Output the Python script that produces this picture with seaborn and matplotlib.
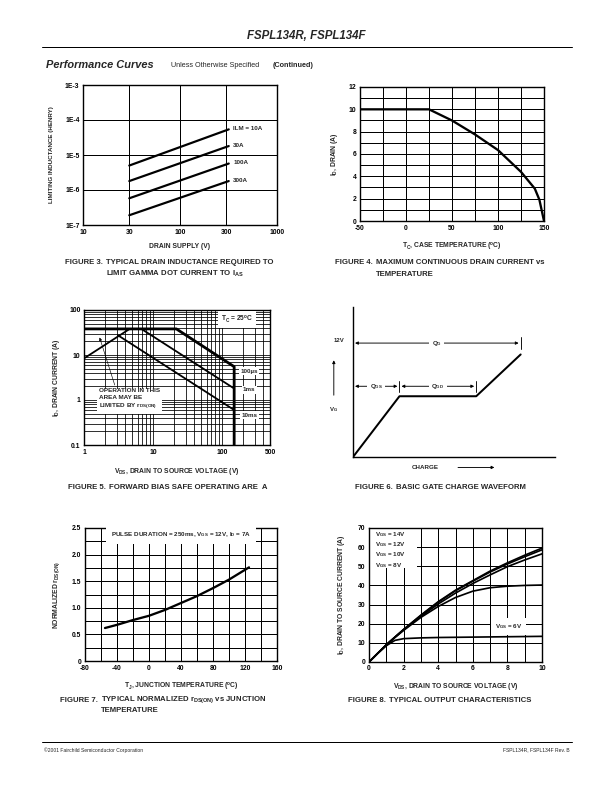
import numpy as np
import pandas as pd
import matplotlib
matplotlib.use('Agg')
import matplotlib.pyplot as plt
import seaborn as sns
from matplotlib.ticker import FixedLocator, NullFormatter, LogLocator, MultipleLocator

# ---- data ----
# fig 3: limiting inductance vs drain supply
drain_supply = [30, 318]
ilm_labels = ['ILM = 10A', '30A', '100A', '300A']
ind_at_30 = [5.0e-6, 1.8e-6, 5.8e-7, 1.9e-7]
ind_at_318 = [5.4e-5, 1.8e-5, 5.7e-6, 1.8e-6]

# fig 4: max continuous drain current vs case temperature
tc = [-50, 25, 50, 75, 100, 125, 140, 145, 150]
id_max = [10, 10, 9.0, 7.75, 6.35, 4.4, 2.9, 1.9, 0]

# fig 5: safe operating area
rds_v = [1, 4.6]
rds_i = [8.4, 38]
us100_v = [1, 21.9, 151, 151]
us100_i = [38, 38, 5.5, 0.1]
ms1_v = [6.8, 151]
ms1_i = [38, 1.8]
ms10_v = [3.1, 151]
ms10_i = [27.5, 0.6]

# fig 6: gate charge waveform (arbitrary units)
charge = [0, 2.3, 6.1, 8.3]
vg = [0, 6.4, 6.4, 10.8]

# fig 7: normalized rds(on) vs junction temperature
tj = [-55, -40, -20, 0, 20, 40, 60, 80, 100, 125]
rds_norm = [0.62, 0.68, 0.77, 0.85, 0.96, 1.09, 1.22, 1.37, 1.53, 1.76]

# fig 8: output characteristics
vds = [0, 0.5, 1, 1.5, 2, 3, 4, 5, 6, 7, 8, 9, 10]
id_14 = [0, 4.5, 9, 13, 17, 24.5, 31.5, 37.5, 42.5, 47.5, 51.8, 55.8, 59.5]
id_12 = [0, 4.5, 9, 13, 17, 24.3, 31.2, 37.2, 42.2, 47, 51.2, 55, 58.6]
id_10 = [0, 4.5, 9, 13, 16.8, 23.8, 30.3, 36, 41, 45.5, 49.8, 53.3, 56.5]
id_8 = [0, 4.5, 8.8, 12.8, 16.5, 23.3, 29, 33.7, 37, 38.8, 39.6, 40, 40.2]
id_6 = [0, 4.5, 8.5, 11.3, 12.2, 12.6, 12.8, 12.9, 13.0, 13.1, 13.2, 13.3, 13.4]
vgs_labels = ['V$_\\mathrm{GS}$ = 14V', 'V$_\\mathrm{GS}$ = 12V',
              'V$_\\mathrm{GS}$ = 10V', 'V$_\\mathrm{GS}$ = 8V']

sns.set_style('white')
plt.rcParams['font.family'] = ['Liberation Sans', 'DejaVu Sans']
plt.rcParams['font.weight'] = 'bold'
plt.rcParams['mathtext.fontset'] = 'custom'
plt.rcParams['mathtext.rm'] = 'Liberation Sans:bold'
plt.rcParams['mathtext.it'] = 'Liberation Sans:bold'
plt.rcParams['mathtext.bf'] = 'Liberation Sans:bold'

W, H = 612, 792
fig = plt.figure(figsize=(W / 72, H / 72), dpi=72)
TICK = 6.8
LAB = 6.8
CAP = 7.8
SMALL = 6.2


def place(l, t, r, b):
    return fig.add_axes([l / W, 1 - b / H, (r - l) / W, (b - t) / H])


def ftext(x, y, s, **kw):
    fig.text(x / W, 1 - y / H, s, **kw)


def style(ax):
    for sp in ax.spines.values():
        sp.set_color('black')
        sp.set_linewidth(1.4)
    ax.tick_params(which='both', length=0, labelsize=TICK, pad=3.5, colors='black')
    for lab in ax.get_xticklabels() + ax.get_yticklabels():
        lab.set_fontweight('bold')
    ax.set_axisbelow(True)


def caption(x, y, num, lines):
    ftext(x, y, 'FIGURE %d.' % num, fontsize=CAP, fontweight='bold', va='center')
    for k, ln in enumerate(lines):
        ftext(x + 41, y + k * 11, ln, fontsize=CAP, fontweight='bold', va='center')


white_box = dict(facecolor='white', edgecolor='none', pad=1.5)

# ---------- figure 3 ----------
ax = place(83, 85, 277, 225)
ax.set_xscale('log')
ax.set_yscale('log')
for lab, y0, y1 in zip(ilm_labels, ind_at_30, ind_at_318):
    sns.lineplot(x=drain_supply, y=[y0, y1], ax=ax, color='black', lw=2.2, estimator=None)
    ax.text(355, y1 * 1.05, lab, fontsize=SMALL, fontweight='bold', va='center', ha='left')
ax.set_xlim(10, 1000)
ax.set_ylim(1e-7, 1e-3)
ax.xaxis.set_major_locator(FixedLocator([10, 30, 100, 300, 1000]))
ax.xaxis.set_minor_locator(FixedLocator([]))
ax.set_xticklabels(['10', '30', '100', '300', '1000'])
ax.yaxis.set_major_locator(FixedLocator([1e-7, 1e-6, 1e-5, 1e-4, 1e-3]))
ax.yaxis.set_minor_locator(FixedLocator([]))
ax.set_yticklabels(['1E-7', '1E-6', '1E-5', '1E-4', '1E-3'])
ax.grid(True, which='major', color='black', lw=1.0)
ax.set_xlabel('DRAIN SUPPLY (V)', fontsize=LAB, fontweight='bold')
ax.set_ylabel('LIMITING INDUCTANCE (HENRY)', fontsize=6.2, fontweight='bold')
ax.xaxis.set_label_coords(0.5, -0.13)
ax.yaxis.set_label_coords(-0.15, 0.5)
style(ax)
caption(65, 263, 3, ['TYPICAL DRAIN INDUCTANCE REQUIRED TO',
                     'LIMIT GAMMA DOT CURRENT TO I$_\\mathrm{AS}$'])

# ---------- figure 4 ----------
ax = place(360, 87, 544, 221)
sns.lineplot(x=tc, y=id_max, ax=ax, color='black', lw=2.3, estimator=None)
ax.set_xlim(-50, 150)
ax.set_ylim(0, 12)
ax.xaxis.set_major_locator(MultipleLocator(25))
ax.yaxis.set_major_locator(MultipleLocator(1))
ax.set_xticklabels([('%d' % v if v % 50 == 0 else '') for v in ax.get_xticks()])
ax.set_yticklabels([('%d' % v if v % 2 == 0 else '') for v in ax.get_yticks()])
ax.grid(True, color='black', lw=1.0)
ax.set_xlabel('T$_\\mathrm{C}$, CASE TEMPERATURE ($^\\mathrm{o}$C)', fontsize=LAB, fontweight='bold')
ax.set_ylabel('I$_\\mathrm{D}$, DRAIN (A)', fontsize=LAB, fontweight='bold')
ax.xaxis.set_label_coords(0.5, -0.15)
ax.yaxis.set_label_coords(-0.11, 0.5)
style(ax)
caption(335, 263, 4, ['MAXIMUM CONTINUOUS DRAIN CURRENT vs', 'TEMPERATURE'])

# ---------- figure 5 ----------
ax = place(84, 310, 270, 445)
ax.set_xscale('log')
ax.set_yscale('log')
sns.lineplot(x=rds_v, y=rds_i, ax=ax, color='black', lw=1.8, estimator=None)
sns.lineplot(x=us100_v, y=us100_i, ax=ax, color='black', lw=2.8, sort=False, estimator=None)
sns.lineplot(x=ms1_v, y=ms1_i, ax=ax, color='black', lw=1.8, estimator=None)
sns.lineplot(x=ms10_v, y=ms10_i, ax=ax, color='black', lw=1.8, estimator=None)
ax.set_xlim(1, 500)
ax.set_ylim(0.1, 100)
ax.xaxis.set_major_locator(FixedLocator([1, 10, 100, 500]))
ax.set_xticklabels(['1', '10', '100', '500'])
ax.xaxis.set_minor_locator(LogLocator(base=10, subs=np.arange(2, 10), numticks=20))
ax.xaxis.set_minor_formatter(NullFormatter())
ax.yaxis.set_major_locator(FixedLocator([0.1, 1, 10, 100]))
ax.set_yticklabels(['0.1', '1', '10', '100'])
ax.yaxis.set_minor_locator(LogLocator(base=10, subs=np.arange(2, 10), numticks=20))
ax.yaxis.set_minor_formatter(NullFormatter())
ax.grid(True, which='both', color='black', lw=0.8)
ax.text(165, 62, 'T$_\\mathrm{C}$ = 25$^\\mathrm{o}$C', fontsize=6.6, fontweight='bold',
        ha='center', va='center', bbox=dict(facecolor='white', edgecolor='none', pad=3))
for lab, yv in zip(['100µs', '1ms', '10ms'], [4.4, 1.67, 0.46]):
    ax.text(250, yv, lab, fontsize=SMALL, fontweight='bold', ha='center', va='center', bbox=white_box)
ax.text(1.65, 1.0, 'OPERATION IN THIS\nAREA MAY BE\nLIMITED BY r$_\\mathrm{DS(ON)}$', fontsize=6.4,
        fontweight='bold', ha='left', va='center', linespacing=1.3,
        bbox=dict(facecolor='white', edgecolor='none', pad=2))
ax.annotate('', xy=(1.65, 27), xytext=(2.85, 1.95),
            arrowprops=dict(arrowstyle='-|>', color='black', lw=0.6, mutation_scale=6))
ax.set_xlabel('V$_\\mathrm{DS}$, DRAIN TO SOURCE VOLTAGE (V)', fontsize=LAB, fontweight='bold')
ax.set_ylabel('I$_\\mathrm{D}$, DRAIN CURRENT (A)', fontsize=LAB, fontweight='bold')
ax.xaxis.set_label_coords(0.5, -0.155)
ax.yaxis.set_label_coords(-0.12, 0.5)
style(ax)
caption(68, 487, 5, ['FORWARD BIAS SAFE OPERATING ARE  A'])

# ---------- figure 6 ----------
ax = place(353, 307, 555, 457)
sns.lineplot(x=charge, y=vg, ax=ax, color='black', lw=2.0, estimator=None, sort=False)
ax.set_xlim(0, 10)
ax.set_ylim(0, 15.8)
ax.set_xticks([])
ax.set_yticks([])
ax.spines['top'].set_visible(False)
ax.spines['right'].set_visible(False)
for sp in ['left', 'bottom']:
    ax.spines[sp].set_linewidth(1.4)
    ax.spines[sp].set_color('black')
arr = dict(arrowstyle='-|>', color='black', lw=0.9, mutation_scale=6)
y_qg, y_q = 12, 7.45
for (x0, x1, yy, lab) in [(0, charge[3], y_qg, 'Q$_\\mathrm{G}$'),
                          (0, charge[1], y_q, 'Q$_\\mathrm{GS}$'),
                          (charge[1], charge[2], y_q, 'Q$_\\mathrm{GD}$')]:
    xm = (x0 + x1) / 2
    ax.annotate('', xy=(x0, yy), xytext=(xm, yy), arrowprops=arr)
    ax.annotate('', xy=(x1, yy), xytext=(xm, yy), arrowprops=arr)
    ax.text(xm, yy, lab, fontsize=SMALL, fontweight='bold', ha='center', va='center',
            bbox=dict(facecolor='white', edgecolor='none', pad=2.5))
    ax.plot([x1, x1], [yy - 0.6, yy + 0.6], color='black', lw=0.9)
ax.text(-0.45, 12.3, '12V', fontsize=6, fontweight='bold', ha='right', va='center')
ax.annotate('', xy=(-0.95, 10.4), xytext=(-0.95, 6.3),
            arrowprops=dict(arrowstyle='-|>', color='black', lw=0.9, mutation_scale=6),
            annotation_clip=False)
ax.text(-0.95, 5.0, 'V$_\\mathrm{G}$', fontsize=6, fontweight='bold', ha='center', va='center')
ax.text(3.6, -1.1, 'CHARGE', fontsize=SMALL, fontweight='bold', ha='center', va='center')
ax.annotate('', xy=(7.1, -1.1), xytext=(5.1, -1.1),
            arrowprops=dict(arrowstyle='-|>', color='black', lw=0.9, mutation_scale=6),
            annotation_clip=False)
caption(355, 487, 6, ['BASIC GATE CHARGE WAVEFORM'])

# ---------- figure 7 ----------
ax = place(85, 528, 277, 661)
sns.lineplot(x=tj, y=rds_norm, ax=ax, color='black', lw=2.3, estimator=None)
ax.set_xlim(-80, 160)
ax.set_ylim(0, 2.5)
ax.xaxis.set_major_locator(MultipleLocator(20))
ax.yaxis.set_major_locator(MultipleLocator(0.25))
ax.set_xticklabels([('%d' % v if v % 40 == 0 else '') for v in ax.get_xticks()])
ax.set_yticklabels([(('%.1f' % v) if v > 0 else '0') if abs(v * 2 - round(v * 2)) < 1e-6 else ''
                    for v in ax.get_yticks()])
ax.grid(True, color='black', lw=1.0)
ax.text(40, 2.37, 'PULSE DURATION = 250ms, V$_\\mathrm{GS}$ = 12V, I$_\\mathrm{D}$ = 7A',
        fontsize=SMALL, fontweight='bold', ha='center', va='center',
        bbox=dict(facecolor='white', edgecolor='none', pad=4.5))
ax.set_xlabel('T$_\\mathrm{J}$, JUNCTION TEMPERATURE ($^\\mathrm{o}$C)', fontsize=LAB, fontweight='bold')
ax.set_ylabel('NORMALIZED r$_\\mathrm{DS(ON)}$', fontsize=LAB, fontweight='bold')
ax.xaxis.set_label_coords(0.5, -0.15)
ax.yaxis.set_label_coords(-0.12, 0.5)
style(ax)
caption(60, 700, 7, ['TYPICAL NORMALIZED r$_\\mathrm{DS(ON)}$ vs JUNCTION', 'TEMPERATURE'])

# ---------- figure 8 ----------
ax = place(369, 528, 542, 662)
for ys in [id_14, id_12, id_10, id_8, id_6]:
    sns.lineplot(x=vds, y=ys, ax=ax, color='black', lw=1.7, estimator=None)
ax.set_xlim(0, 10)
ax.set_ylim(0, 70)
ax.xaxis.set_major_locator(MultipleLocator(1))
ax.yaxis.set_major_locator(MultipleLocator(10))
ax.set_xticklabels([('%d' % v if v % 2 == 0 else '') for v in ax.get_xticks()])
ax.grid(True, color='black', lw=1.0)
ax.add_patch(plt.Rectangle((0, 49.0), 2.75, 21, facecolor='white', edgecolor='none', zorder=1.5))
for lab, yv in zip(vgs_labels, [66.7, 61.3, 55.9, 50.6]):
    ax.text(0.35, yv, lab, fontsize=SMALL, fontweight='bold', ha='left', va='center', zorder=3)
ax.text(8.05, 18.5, 'V$_\\mathrm{GS}$ = 6V', fontsize=SMALL, fontweight='bold', ha='center', va='center',
        bbox=dict(facecolor='white', edgecolor='none', pad=4))
ax.set_xlabel('V$_\\mathrm{DS}$, DRAIN TO SOURCE VOLTAGE (V)', fontsize=LAB, fontweight='bold')
ax.set_ylabel('I$_\\mathrm{D}$, DRAIN TO SOURCE CURRENT (A)', fontsize=LAB, fontweight='bold')
ax.xaxis.set_label_coords(0.5, -0.142)
ax.yaxis.set_label_coords(-0.13, 0.5)
style(ax)
caption(348, 700, 8, ['TYPICAL OUTPUT CHARACTERISTICS'])

# ---------- page furniture ----------
ftext(306, 36, 'FSPL134R, FSPL134F', fontsize=11.5, fontweight='bold', style='italic',
      ha='center', va='center')
fig.add_artist(plt.Line2D([42 / W, 572 / W], [1 - 47 / H, 1 - 47 / H], color='black', lw=1.0))
ftext(46, 65, 'Performance Curves', fontsize=11, fontweight='bold', style='italic', va='center')
ftext(171, 65.5, 'Unless Otherwise Specified', fontsize=7.3, fontweight='normal', va='center')
ftext(273, 65.5, '(Continued)', fontsize=7.3, fontweight='bold', va='center')
fig.add_artist(plt.Line2D([42 / W, 572 / W], [1 - 742 / H, 1 - 742 / H], color='black', lw=1.0))
ftext(44, 750, '©2001 Fairchild Semiconductor Corporation', fontsize=5, fontweight='normal', va='center')
ftext(570, 750, 'FSPL134R, FSPL134F Rev. B', fontsize=5, fontweight='normal', va='center', ha='right')

fig.savefig('out.png', dpi=72)
